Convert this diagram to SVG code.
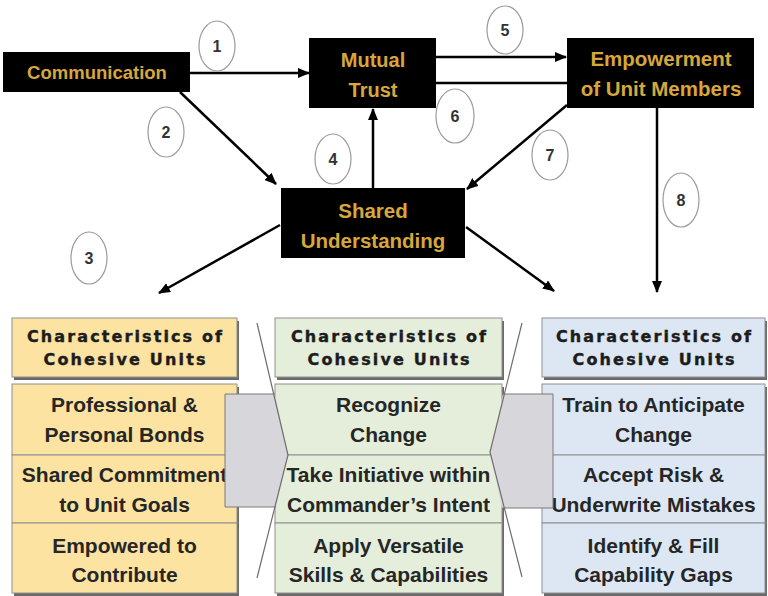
<svg xmlns="http://www.w3.org/2000/svg" width="768" height="596" viewBox="0 0 768 596">
<style>
.node{fill:#000}
.nt{font-family:"Liberation Sans",Arial,sans-serif;font-weight:bold;fill:#D8A73A;text-anchor:middle}
.conn{stroke:#000;stroke-width:2.5;fill:none}
.num{fill:#fff;stroke:#9a9a9a;stroke-width:1.2}
.numt{font-family:"Liberation Sans",Arial,sans-serif;font-weight:bold;font-size:16px;fill:#333;text-anchor:middle}
.sh{fill:#6a6a6a}
.cy{fill:#FCE3A2;stroke:#8f8f8f;stroke-width:1}
.cg{fill:#E5EEDB;stroke:#8f8f8f;stroke-width:1}
.cb{fill:#DDE7F3;stroke:#8f8f8f;stroke-width:1}
.ht{font-family:"DejaVu Sans",Arial,sans-serif;font-weight:bold;font-size:16px;fill:#1c1c1c;stroke:#1c1c1c;stroke-width:0.4;text-anchor:middle}
.bt{font-family:"Liberation Sans",Arial,sans-serif;font-weight:bold;font-size:21px;fill:#262626;text-anchor:middle}
.blk{fill:#D7D7DB;stroke:#7a7a7a;stroke-width:1}
.blkl{fill:none;stroke:#6e6e6e;stroke-width:1.2}
</style>
<defs>
<marker id="ah" markerUnits="userSpaceOnUse" markerWidth="12" markerHeight="10" refX="11" refY="5" orient="auto">
<path d="M0,0 L12,5 L0,10 z" fill="#000"/>
</marker>
</defs>
<rect width="768" height="596" fill="#fff"/>

<g id="connectors">
<line class="conn" x1="190" y1="73" x2="309" y2="73" marker-end="url(#ah)"/>
<line class="conn" x1="180" y1="92" x2="276" y2="184" marker-end="url(#ah)"/>
<line class="conn" x1="373" y1="188" x2="373" y2="109" marker-end="url(#ah)"/>
<line class="conn" x1="436" y1="57" x2="566" y2="57" marker-end="url(#ah)"/>
<line class="conn" x1="567" y1="83" x2="436" y2="83"/>
<line class="conn" x1="567" y1="105" x2="467" y2="189" marker-end="url(#ah)"/>
<line class="conn" x1="657" y1="108" x2="657" y2="292" marker-end="url(#ah)"/>
<line class="conn" x1="280" y1="225" x2="159" y2="293" marker-end="url(#ah)"/>
<line class="conn" x1="466" y1="227" x2="554" y2="291" marker-end="url(#ah)"/>
</g>

<g id="labels">
<ellipse class="num" cx="217" cy="46" rx="18" ry="25"/><text class="numt" x="217" y="52">1</text>
<ellipse class="num" cx="166" cy="132" rx="18" ry="25"/><text class="numt" x="166" y="138">2</text>
<ellipse class="num" cx="89" cy="258" rx="18" ry="26"/><text class="numt" x="89" y="264">3</text>
<ellipse class="num" cx="333" cy="159" rx="18" ry="25"/><text class="numt" x="333" y="165">4</text>
<ellipse class="num" cx="505" cy="30" rx="18" ry="24"/><text class="numt" x="505" y="36">5</text>
<ellipse class="num" cx="455" cy="116" rx="19" ry="27"/><text class="numt" x="455" y="122">6</text>
<ellipse class="num" cx="550" cy="155" rx="18" ry="25"/><text class="numt" x="550" y="161">7</text>
<ellipse class="num" cx="681" cy="200" rx="18" ry="27"/><text class="numt" x="681" y="206">8</text>
</g>

<g id="communication">
<rect class="node" x="3" y="52" width="187" height="40"/>
<text class="nt" x="97" y="79" font-size="18.5">Communication</text>
</g>
<g id="mutual-trust">
<rect class="node" x="309" y="38" width="127" height="70"/>
<text class="nt" x="373" y="67" font-size="20">Mutual</text>
<text class="nt" x="373" y="97" font-size="20">Trust</text>
</g>
<g id="empowerment">
<rect class="node" x="567" y="38" width="187" height="70"/>
<text class="nt" x="661" y="66" font-size="20.5">Empowerment</text>
<text class="nt" x="661" y="96" font-size="20.5">of Unit Members</text>
</g>
<g id="shared-understanding">
<rect class="node" x="281" y="188" width="184" height="70"/>
<text class="nt" x="373" y="218" font-size="20.5">Shared</text>
<text class="nt" x="373" y="248" font-size="20.5">Understanding</text>
</g>

<g id="col-left">
<rect class="sh" x="14" y="321" width="225" height="59"/>
<rect class="cy" x="12" y="318" width="225" height="59"/>
<text class="ht" x="124.5" y="342" textLength="195" lengthAdjust="spacing">Characteristics of</text>
<text class="ht" x="124.5" y="365" textLength="162" lengthAdjust="spacing">Cohesive Units</text>
<rect class="sh" x="14" y="387" width="225" height="71"/>
<rect class="cy" x="12" y="384" width="225" height="71"/>
<rect class="sh" x="14" y="458" width="225" height="68"/>
<rect class="cy" x="12" y="455" width="225" height="68"/>
<rect class="sh" x="14" y="526" width="225" height="70"/>
<rect class="cy" x="12" y="523" width="225" height="70"/>
<text class="bt" x="124.5" y="412">Professional &amp;</text>
<text class="bt" x="124.5" y="442">Personal Bonds</text>
<text class="bt" x="124.5" y="482">Shared Commitment</text>
<text class="bt" x="124.5" y="512">to Unit Goals</text>
<text class="bt" x="124.5" y="553">Empowered to</text>
<text class="bt" x="124.5" y="582">Contribute</text>
</g>

<g id="col-middle">
<rect class="sh" x="277" y="321" width="227" height="59"/>
<rect class="cg" x="275" y="318" width="227" height="59"/>
<text class="ht" x="388.5" y="342" textLength="195" lengthAdjust="spacing">Characteristics of</text>
<text class="ht" x="388.5" y="365" textLength="162" lengthAdjust="spacing">Cohesive Units</text>
<rect class="sh" x="277" y="387" width="227" height="71"/>
<rect class="cg" x="275" y="384" width="227" height="71"/>
<rect class="sh" x="277" y="458" width="227" height="68"/>
<rect class="cg" x="275" y="455" width="227" height="68"/>
<rect class="sh" x="277" y="526" width="227" height="70"/>
<rect class="cg" x="275" y="523" width="227" height="70"/>
<text class="bt" x="388.5" y="412">Recognize</text>
<text class="bt" x="388.5" y="442">Change</text>
<text class="bt" x="388.5" y="482">Take Initiative within</text>
<text class="bt" x="388.5" y="512">Commander’s Intent</text>
<text class="bt" x="388.5" y="553">Apply Versatile</text>
<text class="bt" x="388.5" y="582">Skills &amp; Capabilities</text>
</g>

<g id="col-right">
<rect class="sh" x="544" y="321" width="223" height="59"/>
<rect class="cb" x="542" y="318" width="223" height="59"/>
<text class="ht" x="653.5" y="342" textLength="195" lengthAdjust="spacing">Characteristics of</text>
<text class="ht" x="653.5" y="365" textLength="162" lengthAdjust="spacing">Cohesive Units</text>
<rect class="sh" x="544" y="387" width="223" height="71"/>
<rect class="cb" x="542" y="384" width="223" height="71"/>
<rect class="sh" x="544" y="458" width="223" height="68"/>
<rect class="cb" x="542" y="455" width="223" height="68"/>
<rect class="sh" x="544" y="526" width="223" height="70"/>
<rect class="cb" x="542" y="523" width="223" height="70"/>
<text class="bt" x="653.5" y="412">Train to Anticipate</text>
<text class="bt" x="653.5" y="442">Change</text>
<text class="bt" x="653.5" y="482">Accept Risk &amp;</text>
<text class="bt" x="653.5" y="512">Underwrite Mistakes</text>
<text class="bt" x="653.5" y="553">Identify &amp; Fill</text>
<text class="bt" x="653.5" y="582">Capability Gaps</text>
</g>

<g id="arrow-right">
<path d="M225,394 L275,394 L288,455 L276,507 L225,507 Z" fill="#D7D7DB" stroke="none"/>
<path class="blk" d="M275,394 L225,394 L225,507 L276,507" fill="none"/>
<path class="blkl" d="M257,323 L288,455 L257,578"/>
</g>
<g id="arrow-left">
<path d="M553,394 L503,394 L490,452 L502,508 L553,508 Z" fill="#D7D7DB" stroke="none"/>
<path class="blk" d="M503,394 L553,394 L553,508 L502,508" fill="none"/>
<path class="blkl" d="M522,323 L490,452 L522,577"/>
</g>
</svg>
